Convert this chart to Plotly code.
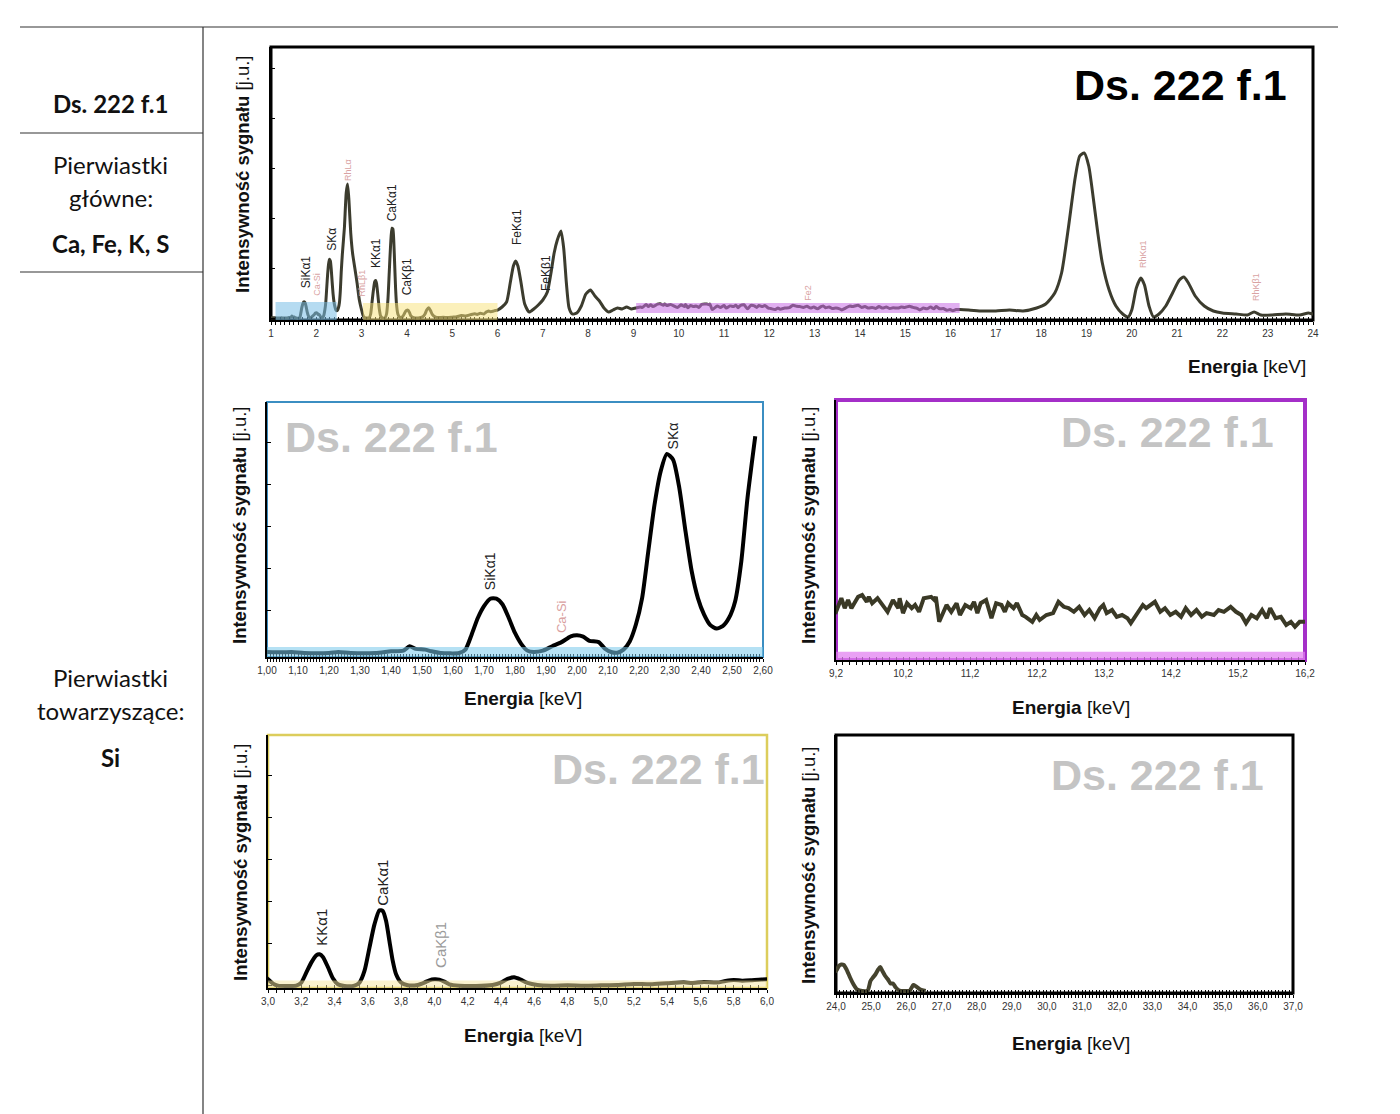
import plotly.graph_objects as go

W, H = 1400, 1114

# ---------------- spectrum data: energia [keV] / intensywność [j.u.] ----------------
kev_a = [1.00, 1.05, 1.08, 1.12, 1.20, 1.23, 1.27, 1.35, 1.40, 1.44, 1.46, 1.48, 1.51, 1.53,
         1.56, 1.62, 1.64, 1.66, 1.68, 1.70, 1.72, 1.74, 1.76, 1.78, 1.80, 1.82, 1.84, 1.86,
         1.89, 1.92, 1.95, 1.98, 2.00, 2.02, 2.04, 2.07, 2.09, 2.11, 2.13, 2.15, 2.17, 2.19,
         2.21, 2.23, 2.25, 2.27, 2.29, 2.31, 2.33, 2.35, 2.37, 2.39, 2.41, 2.43, 2.45, 2.47,
         2.49, 2.51, 2.53, 2.55, 2.575]
int_a = [0.3, 0.2, 0.3, 0.0, 0.0, 0.3, 0.0, 0.0, 0.5, 0.7, 2.0, 1.2, 1.0, 0.5,
         0.0, 0.0, 1.0, 5.4, 10.3, 13.8, 16.0, 16.0, 14.3, 10.3, 5.9, 2.7, 0.7, 0.3,
         0.7, 2.0, 3.2, 4.9, 5.2, 4.8, 3.6, 3.2, 1.3, 0.3, 0.1, 1.0, 3.4, 8.4,
         16.2, 30.0, 43.7, 53.6, 58.7, 57.0, 48.7, 35.9, 24.1, 16.2, 11.3, 8.2, 7.2, 7.9,
         10.3, 15.2, 27.0, 45.7, 63.9]

kev_b = [2.62, 2.66, 2.69, 2.72, 2.76, 2.80, 2.85, 2.90, 2.95]
int_b = [90, 125, 134, 118, 85, 65, 50, 35, 18]

kev_c = [3.00, 3.03, 3.06, 3.12, 3.17, 3.20, 3.23, 3.26, 3.29, 3.31, 3.33, 3.36, 3.39, 3.42,
         3.46, 3.52, 3.55, 3.58, 3.61, 3.64, 3.67, 3.69, 3.71, 3.73, 3.75, 3.77, 3.80, 3.84,
         3.90, 3.94, 3.97, 4.00, 4.03, 4.06, 4.09, 4.15, 4.25, 4.35, 4.40, 4.44, 4.48, 4.52,
         4.56, 4.62, 4.70, 4.80, 4.90, 5.00, 5.10, 5.20, 5.30, 5.40, 5.50, 5.55, 5.62, 5.70,
         5.75, 5.80, 5.85, 5.90, 5.95, 6.00]
int_c = [7.9, 2.8, 0.4, 0.0, 0.4, 4.0, 15.8, 27.7, 36.4, 37.6, 34.4, 22.5, 9.1, 2.0,
         0.0, 0.4, 4.0, 17.8, 45.5, 73.1, 89.8, 89.0, 77.1, 53.4, 29.7, 13.8, 4.0, 0.8,
         1.2, 4.0, 6.7, 7.9, 7.5, 5.1, 2.0, 0.4, 0.0, 1.2, 4.0, 8.3, 10.3, 7.5,
         3.6, 1.2, 0.4, 0.8, 0.4, 0.8, 1.2, 2.4, 2.0, 3.2, 4.3, 3.6, 4.7, 4.0,
         5.9, 7.1, 6.3, 6.7, 7.5, 7.9]

kev_d = [6.10, 6.20, 6.28, 6.35, 6.40, 6.45, 6.52, 6.60, 6.70, 6.80, 6.90, 7.00, 7.10, 7.18,
         7.25, 7.32, 7.40, 7.46, 7.52, 7.58, 7.65, 7.75, 7.85, 7.95, 8.05, 8.15, 8.25, 8.35,
         8.45, 8.55, 8.65, 8.75, 8.85, 8.95, 9.05, 9.15]
int_d = [11, 16, 35, 52, 57, 52, 35, 14, 6, 9, 13, 18, 26, 45,
         65, 78, 87, 70, 35, 10, 4, 5, 12, 24, 28, 22, 17, 10,
         6, 8, 10, 9, 11, 9, 10, 11]

kev_e = [9.20, 9.28, 9.33, 9.38, 9.43, 9.53, 9.59, 9.66, 9.69, 9.74, 9.82, 9.97, 10.05, 10.13,
         10.15, 10.20, 10.26, 10.33, 10.38, 10.44, 10.51, 10.62, 10.67, 10.69, 10.74, 10.85,
         10.92, 11.00, 11.05, 11.13, 11.21, 11.26, 11.31, 11.36, 11.44, 11.52, 11.59, 11.67,
         11.72, 11.77, 11.85, 11.90, 11.98, 12.03, 12.13, 12.19, 12.24, 12.34, 12.44, 12.52,
         12.60, 12.67, 12.75, 12.83, 12.91, 12.98, 13.06, 13.14, 13.19, 13.24, 13.32, 13.39,
         13.47, 13.55, 13.60, 13.68, 13.78, 13.83, 13.96, 14.04, 14.11, 14.19, 14.27, 14.35,
         14.42, 14.50, 14.58, 14.66, 14.73, 14.84, 14.91, 14.99, 15.09, 15.17, 15.25, 15.32,
         15.40, 15.48, 15.56, 15.63, 15.68, 15.76, 15.84, 15.92, 15.99, 16.05, 16.12, 16.20]
int_e = [10.6, 13.6, 11.4, 13.2, 11.4, 13.9, 14.3, 12.8, 13.9, 12.5, 13.6, 10.6, 13.2, 11.4,
         13.6, 10.3, 12.5, 11.4, 12.1, 10.6, 13.6, 13.9, 13.2, 13.9, 8.4, 12.1,
         10.6, 12.5, 9.9, 12.1, 11.4, 12.8, 10.3, 12.5, 13.2, 9.2, 12.5, 12.1,
         10.6, 12.5, 11.4, 12.5, 9.9, 9.5, 8.4, 9.9, 8.8, 9.9, 10.3, 12.8,
         11.7, 11.4, 10.6, 11.7, 9.9, 11.0, 9.2, 11.4, 12.1, 10.3, 11.0, 9.5,
         9.9, 9.2, 8.1, 9.9, 12.1, 11.4, 12.8, 10.6, 11.4, 9.9, 10.6, 9.5,
         11.4, 9.9, 11.0, 9.5, 10.3, 9.9, 11.0, 10.6, 11.7, 10.6, 9.9, 8.1,
         9.9, 9.2, 11.0, 9.2, 11.4, 9.2, 9.5, 7.7, 8.4, 7.3, 8.4, 8.4]

kev_f = [16.4, 16.7, 17.0, 17.3, 17.6, 17.9, 18.1, 18.3, 18.45, 18.6, 18.75, 18.85, 18.95,
         19.05, 19.15, 19.25, 19.35, 19.5, 19.65, 19.8, 19.92, 20.0, 20.1, 20.2, 20.28, 20.38,
         20.48, 20.6, 20.75, 20.9, 21.05, 21.15, 21.25, 21.4, 21.6, 21.8, 22.0, 22.3, 22.55,
         22.7, 22.85, 23.1, 23.4, 23.7, 23.9]
int_f = [8, 7, 7, 8, 7, 10, 14, 25, 45, 90, 140, 162, 165,
         152, 120, 85, 55, 28, 12, 4, 1, 8, 30, 40, 33, 12,
         1, 4, 12, 25, 38, 41, 35, 22, 12, 7, 5, 4, 3,
         6, 3, 3, 4, 3, 5]

kev_g = [24.00, 24.08, 24.15, 24.22, 24.30, 24.40, 24.50, 24.60, 24.75, 24.90, 24.98, 25.05,
         25.12, 25.20, 25.26, 25.32, 25.40, 25.48, 25.55, 25.62, 25.70, 25.80, 25.95, 26.10,
         26.20, 26.28, 26.40, 26.55]
int_g = [4.0, 5.0, 5.3, 5.2, 4.3, 2.7, 1.3, 0.3, 0.0, 0.1, 2.0, 2.7,
         3.3, 4.3, 4.8, 4.0, 3.0, 2.3, 1.5, 1.5, 0.7, 0.1, 0.0, 0.1,
         1.2, 0.9, 0.3, 0.0]

energy = kev_a + kev_b + kev_c + kev_d + kev_e + kev_f + kev_g
intensity = int_a + int_b + int_c + int_d + int_e + int_f + int_g

# ---------------- peak labels ----------------
top_lbl_text = ["SiKα1", "Ca-Si", "SKα", "RhLα", "RhLβ1", "KKα1", "CaKα1", "CaKβ1",
                "FeKα1", "FeKβ1", "Fe2", "RhKα1", "RhKβ1"]
top_lbl_kev = [1.79, 2.02, 2.35, 2.70, 3.03, 3.32, 3.69, 4.02, 6.43, 7.07, 12.85, 20.25, 22.74]
top_lbl_int = [28, 20, 65, 135, 20, 48, 95, 21, 71, 25, 15, 48, 15]
top_lbl_minor = [False, True, False, True, True, False, False, False, False, False, True, True, True]

ml_lbl_text = ["SiKα1", "Ca-Si", "SKα"]
ml_lbl_kev = [1.72, 1.95, 2.31]
ml_lbl_int = [18.0, 5.3, 59.3]
ml_lbl_color = ["#222222", "#d9a0a0", "#222222"]

bl_lbl_text = ["KKα1", "CaKα1", "CaKβ1"]
bl_lbl_kev = [3.32, 3.69, 4.04]
bl_lbl_int = [45, 92.5, 19]
bl_lbl_color = ["#222222", "#222222", "#9a9a9a"]

SAMPLE = "Ds. 222 f.1"
YTITLE = "<b>Intensywność sygnału</b> [j.u.]"
XTITLE = "<b>Energia</b> [keV]"

ARIAL = "Liberation Sans, Arial, sans-serif"
NARROW = "Liberation Sans Narrow, Liberation Sans, Arial, sans-serif"
CAL = "Lato, Carlito, Open Sans, sans-serif"

# panel layout: box = (left, top, right, bottom) in pixels; emax = last energy drawn
panels = [
    dict(box=(271, 47, 1313, 320), xr=[1, 24], yr=[-2, 271], dt=1, t0=1, mdt=0.1, fmt="d",
         ydt=50, frame="#000000", fw=3, lc="#3c3c2e", lw=3, emax=99, shape="spline", ty=174),
    dict(box=(267, 402, 763, 657), xr=[1.0, 2.6], yr=[-1.18, 74.0], dt=0.1, t0=1.0, mdt=0.01,
         fmt=".2f", ydt=12.4, frame="#3b8ec2", fw=2, lc="#000000", lw=4, emax=2.58, shape="spline", ty=525),
    dict(box=(836, 400, 1305, 660), xr=[9.2, 16.2], yr=[0, 57.2], dt=1, t0=9.2, mdt=0.1,
         fmt=".1f", ydt=None, frame="#a42fc8", fw=4, lc="#3a3926", lw=4, emax=99, shape="linear", ty=525),
    dict(box=(268, 735, 767, 988), xr=[3.0, 6.0], yr=[-2.4, 297.7], dt=0.2, t0=3.0, mdt=0.05,
         fmt=".1f", ydt=50, frame="#dccd5c", fw=2.5, lc="#000000", lw=4, emax=99, shape="spline", ty=862),
    dict(box=(836, 735, 1293, 993), xr=[24, 37], yr=[-0.4, 51.2], dt=1, t0=24, mdt=0.1,
         fmt=".1f", ydt=None, frame="#000000", fw=3, lc="#45432e", lw=4, emax=99, shape="spline", ty=865),
]


def px(x):
    return x / W


def py(y):
    return 1 - y / H


fig = go.Figure()
layout = dict(width=W, height=H, autosize=False,
              margin=dict(l=0, r=0, t=0, b=0, pad=0, autoexpand=False),
              paper_bgcolor="white", plot_bgcolor="rgba(0,0,0,0)",
              showlegend=False, separators=",.")
shapes = []
annotations = []

for i, p in enumerate(panels):
    k = i + 1
    xs = "x" if k == 1 else f"x{k}"
    ys = "y" if k == 1 else f"y{k}"
    xo = f"x{k + 5}"
    l, t, r, b = p["box"]
    sel = [j for j, e in enumerate(energy) if e <= p["emax"]]
    line = dict(color=p["lc"], width=p["lw"], shape=p["shape"])
    if p["shape"] == "spline":
        line["smoothing"] = 0.6
    fig.add_trace(go.Scatter(x=[energy[j] for j in sel], y=[intensity[j] for j in sel],
                             xaxis=xs, yaxis=ys, mode="lines", line=line, hoverinfo="skip"))
    fig.add_trace(go.Scatter(x=[], y=[], xaxis=xo, yaxis=ys, mode="lines", hoverinfo="skip"))
    xkey = "xaxis" if k == 1 else f"xaxis{k}"
    ykey = "yaxis" if k == 1 else f"yaxis{k}"
    layout[xkey] = dict(domain=[px(l), px(r)], anchor=ys, range=p["xr"], showgrid=False,
                        automargin=False,
                        zeroline=False, showline=True, linecolor="#000", linewidth=2,
                        ticks="outside", ticklen=3, tickwidth=1, tickcolor="#000",
                        tick0=p["t0"], dtick=p["dt"], tickformat=p["fmt"],
                        minor=dict(dtick=p["mdt"], ticks="outside", ticklen=3, tickcolor="#000", tickwidth=1),
                        tickfont=dict(family=NARROW, size=10, color="#333"))
    layout[f"xaxis{k + 5}"] = dict(overlaying=xs, anchor=ys, range=p["xr"], showgrid=False,
                                   automargin=False,
                                   zeroline=False, showline=False, showticklabels=False,
                                   ticks="inside", ticklen=3, tickwidth=1, tickcolor="#000",
                                   tick0=p["t0"], dtick=p["dt"],
                                   minor=dict(dtick=p["mdt"], ticks="inside", ticklen=3,
                                              tickcolor="#000", tickwidth=1))
    yax = dict(domain=[py(b), py(t)], anchor=xs, range=p["yr"], showgrid=False, zeroline=False,
               automargin=False,
               showline=True, linecolor="#000", linewidth=2, showticklabels=False)
    if p["ydt"]:
        yax.update(ticks="inside", ticklen=4, tickcolor="#000", tick0=0, dtick=p["ydt"])
    layout[ykey] = yax
    shapes.append(dict(type="rect", xref=f"{xs} domain", yref=f"{ys} domain", x0=0, x1=1, y0=0, y1=1,
                       line=dict(color=p["frame"], width=p["fw"]), layer="below"))
    annotations.append(dict(text=YTITLE, xref="paper", yref="paper", x=px(l - 28), y=py(p["ty"]),
                            textangle=-90, showarrow=False, xanchor="center", yanchor="middle",
                            font=dict(family=ARIAL, size=18.5, color="#111")))

# highlight bands
band_specs = [
    ("x", "y", 1.1, 2.45, -2, 16, "rgba(120,190,230,0.55)"),
    ("x", "y", 3.03, 6.0, -2, 15, "rgba(248,225,120,0.5)"),
    ("x", "y", 9.06, 16.2, 5, 15, "rgba(200,110,230,0.55)"),
    ("x2", "y2", 1.0, 2.6, -1.18, 1.8, "rgba(120,200,235,0.55)"),
    ("x3", "y3", 9.2, 16.2, 0, 1.8, "rgba(225,130,240,0.75)"),
    ("x4", "y4", 3.0, 6.0, -2.4, 6.5, "rgba(245,230,160,0.5)"),
]
for xr_, yr_, x0, x1, y0, y1, col in band_specs:
    shapes.append(dict(type="rect", xref=xr_, yref=yr_, x0=x0, x1=x1, y0=y0, y1=y1,
                       fillcolor=col, line=dict(width=0), layer="above"))

# sample-name watermarks
wm = [((1180, 85), "#000000"), ((391, 437), "#c4c4c4"), ((1167, 432), "#c4c4c4"),
      ((658, 769), "#c4c4c4"), ((1157, 775), "#c4c4c4")]
for (cx, cy), col in wm:
    annotations.append(dict(text=f"<b>{SAMPLE}</b>", xref="paper", yref="paper", x=px(cx), y=py(cy),
                            showarrow=False, xanchor="center", yanchor="middle",
                            font=dict(family=ARIAL, size=43, color=col)))

# x titles
xt = [((1308, 367), "right"), ((523, 698), "center"), ((1071, 707), "center"),
      ((523, 1035), "center"), ((1071, 1043), "center")]
for (cx, cy), anc in xt:
    annotations.append(dict(text=XTITLE, xref="paper", yref="paper", x=px(cx), y=py(cy),
                            showarrow=False, xanchor=anc, yanchor="middle",
                            font=dict(family=NARROW, size=19, color="#111")))

# peak labels
for txt, kx, ky, minor in zip(top_lbl_text, top_lbl_kev, top_lbl_int, top_lbl_minor):
    annotations.append(dict(text=txt, xref="x", yref="y", x=kx, y=ky, textangle=-90, showarrow=False,
                            xanchor="center", yanchor="bottom",
                            font=dict(family=ARIAL, size=9 if minor else 12,
                                      color="#d9a3a3" if minor else "#222")))
for txt, kx, ky, col in zip(ml_lbl_text, ml_lbl_kev, ml_lbl_int, ml_lbl_color):
    annotations.append(dict(text=txt, xref="x2", yref="y2", x=kx, y=ky, textangle=-90, showarrow=False,
                            xanchor="center", yanchor="bottom",
                            font=dict(family=ARIAL, size=13 if col != "#222222" else 14, color=col)))
for txt, kx, ky, col in zip(bl_lbl_text, bl_lbl_kev, bl_lbl_int, bl_lbl_color):
    annotations.append(dict(text=txt, xref="x4", yref="y4", x=kx, y=ky, textangle=-90, showarrow=False,
                            xanchor="center", yanchor="bottom",
                            font=dict(family=ARIAL, size=15, color=col)))

# left info column
for x0, y0, x1, y1 in [(20, 27, 1338, 27), (203, 27, 203, 1114), (20, 133, 203, 133), (20, 272, 203, 272)]:
    shapes.append(dict(type="line", xref="paper", yref="paper", x0=px(x0), y0=py(y0), x1=px(x1), y1=py(y1),
                       line=dict(color="#333", width=1.2)))

left_text = [("<b>Ds. 222 f.1</b>", 104), ("Pierwiastki", 165), ("główne:", 197),
             ("<b>Ca, Fe, K, S</b>", 243), ("Pierwiastki", 678), ("towarzyszące:", 710), ("<b>Si</b>", 757)]
for txt, cy in left_text:
    annotations.append(dict(text=txt, xref="paper", yref="paper", x=px(111), y=py(cy), showarrow=False,
                            xanchor="center", yanchor="middle",
                            font=dict(family=CAL, size=24, color="#111")))

layout["shapes"] = shapes
layout["annotations"] = annotations
fig.update_layout(**layout)
fig.write_html("out.html",
               config={"responsive": False, "displayModeBar": False, "displaylogo": False},
               post_script="document.body.style.margin='0px';document.body.style.overflow='hidden';")
